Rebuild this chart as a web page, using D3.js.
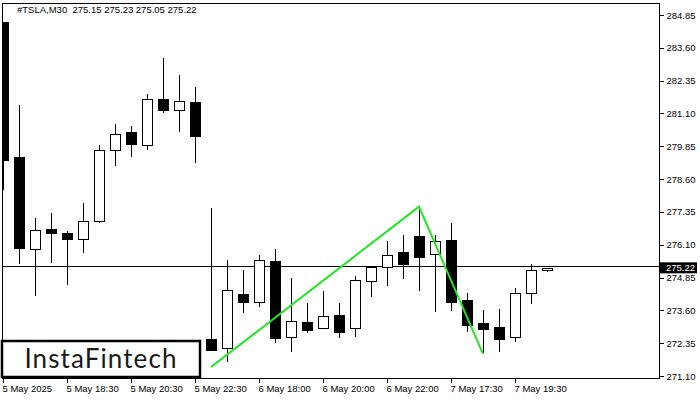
<!DOCTYPE html>
<html><head><meta charset="utf-8">
<script src="https://cdn.jsdelivr.net/npm/d3@7/dist/d3.min.js"></script>
<style>
html,body{margin:0;padding:0;background:#fff;}
svg{display:block;}
</style></head>
<body>
<svg id="c" width="700" height="400"></svg>
<script>
const opens  = [284.59,279.44,275.94,276.70,276.55,276.32,277.00,279.71,280.40,279.90,281.65,281.23,281.54,272.51,272.17,274.22,273.92,275.48,272.59,273.16,272.93,273.42,272.93,274.72,275.25,275.82,276.43,275.75,276.28,274.00,273.12,272.97,272.59,274.26,275.15];
const highs  = [284.60,281.42,277.12,277.31,276.62,277.69,279.90,280.70,280.63,281.84,283.21,282.57,282.11,277.50,275.52,275.14,275.71,275.94,274.83,273.88,274.34,273.88,274.91,275.29,276.24,276.47,277.54,276.47,276.93,274.26,273.61,273.65,274.45,275.37,275.23];
const lows   = [278.19,275.37,274.15,275.40,274.57,275.79,276.93,279.10,279.44,279.71,281.12,280.40,279.21,272.05,271.63,273.50,273.73,272.36,272.01,272.74,272.88,272.55,272.59,274.11,274.53,274.80,274.34,273.54,273.58,272.78,271.98,272.01,272.40,273.84,275.05];
const closes = [279.33,275.98,276.66,276.55,276.32,277.00,279.71,280.32,279.94,281.65,281.23,281.58,280.24,272.09,274.38,273.92,275.52,272.55,273.20,272.85,273.39,272.78,274.76,275.25,275.71,275.37,275.63,276.24,273.92,273.04,272.89,272.51,274.26,275.14,275.22];
const priceTicks = [284.85,283.60,282.35,281.10,279.85,278.60,277.35,276.10,274.85,273.60,272.35,271.10];
const timeLabels = ["5 May 2025","5 May 18:30","5 May 20:30","5 May 22:30","6 May 18:00","6 May 20:00","6 May 22:00","7 May 17:30","7 May 19:30"];
const timeIdx = [0,4,8,12,16,20,24,28,32];
const patternIdx = [13,26,30];
const patternPrice = [271.44,277.55,271.94];
const lastPrice = 275.22;
const header = "#TSLA,M30  275.15 275.23 275.05 275.22";

const svg = d3.select("#c");
const L = 2, R = 659, T = 3, B = 378;
const y = d3.scaleLinear().domain([271.10, 284.85]).range([376, 15]);
const x = d3.scaleLinear().domain([0, 34]).range([3, 547]);
const font = "Liberation Sans, Arial, sans-serif";

svg.append("defs").append("clipPath").attr("id","clip")
  .append("rect").attr("x",L).attr("y",T).attr("width",R-L).attr("height",B-T);

const g = svg.append("g").attr("clip-path","url(#clip)");

// current price line
const py = Math.floor(y(lastPrice)) - 0.5;
g.append("line").attr("x1",L).attr("x2",R)
  .attr("y1",py).attr("y2",py)
  .attr("stroke","#000").attr("stroke-width",1);

const data = opens.map((o,i)=>({i,o,h:highs[i],l:lows[i],c:closes[i]}));
const cg = g.append("g").attr("shape-rendering","crispEdges");
data.forEach(d=>{
  const cx = Math.round(x(d.i)) + 0.5;
  cg.append("line").attr("x1",cx).attr("x2",cx)
    .attr("y1",y(d.h)).attr("y2",y(d.l)).attr("stroke","#000").attr("stroke-width",1);
  const top = Math.round(y(Math.max(d.o,d.c))), bot = Math.round(y(Math.min(d.o,d.c)));
  cg.append("rect").attr("x",cx-5).attr("y",top+0.5)
    .attr("width",10).attr("height",Math.max(1,bot-top))
    .attr("fill", d.c>=d.o ? "#fff" : "#000")
    .attr("stroke","#000").attr("stroke-width",1);
});

// pattern line
g.append("path")
  .datum(patternIdx.map((v,k)=>[v,patternPrice[k]]))
  .attr("d", d3.line().x(d=>x(d[0])).y(d=>y(d[1])))
  .attr("fill","none").attr("stroke","#22e622").attr("stroke-width",2);

// frame
svg.append("rect").attr("x",L+0.5).attr("y",T+0.5).attr("width",R-L).attr("height",B-T)
  .attr("fill","none").attr("stroke","#000").attr("stroke-width",1).attr("shape-rendering","crispEdges");

// right axis
const ra = svg.append("g").attr("transform",`translate(${R+0.5},0)`)
  .call(d3.axisRight(y).tickValues(priceTicks).tickSize(4).tickPadding(3).tickFormat(d3.format(".2f")));
ra.select(".domain").remove();
ra.selectAll("line").attr("stroke","#000").attr("shape-rendering","crispEdges");
ra.selectAll("text").attr("font-family",font).attr("font-size","9.5px").attr("fill","#000");

// bottom axis
const ba = svg.append("g").attr("transform",`translate(0,${B+0.5})`)
  .call(d3.axisBottom(x).tickValues(timeIdx).tickSize(4).tickPadding(3)
    .tickFormat((d,k)=>timeLabels[k]));
ba.select(".domain").remove();
ba.selectAll(".tick").attr("transform", d=>`translate(${Math.round(x(d))+0.5},0)`);
ba.selectAll("line").attr("stroke","#000").attr("shape-rendering","crispEdges");
ba.selectAll("text").attr("font-family",font).attr("font-size","9.5px").attr("fill","#000")
  .attr("text-anchor","start").attr("x",-1);

// last price label
const ly = y(lastPrice);
svg.append("rect").attr("x",660).attr("y",ly-5.5).attr("width",37).attr("height",11).attr("fill","#000");
svg.append("text").attr("x",666).attr("y",ly+3.5).text(d3.format(".2f")(lastPrice))
  .attr("font-family",font).attr("font-size","9.5px").attr("fill","#fff");

// header
svg.append("text").attr("x",17).attr("y",13).text(header).attr("xml:space","preserve")
  .style("white-space","pre")
  .attr("font-family",font).attr("font-size","9.5px").attr("fill","#000");

// logo box
svg.append("rect").attr("x",2).attr("y",341).attr("width",198).attr("height",36)
  .attr("fill","#fff").attr("stroke","#000").attr("stroke-width",2.5);
svg.append("text").attr("x",101).attr("y",368).attr("text-anchor","middle")
  .text("InstaFintech").attr("font-family","Lato, 'Open Sans', sans-serif")
  .attr("font-size","26px").attr("font-weight",400).attr("letter-spacing","1.1px").attr("fill","#1a1a1a");
</script>
</body></html>
